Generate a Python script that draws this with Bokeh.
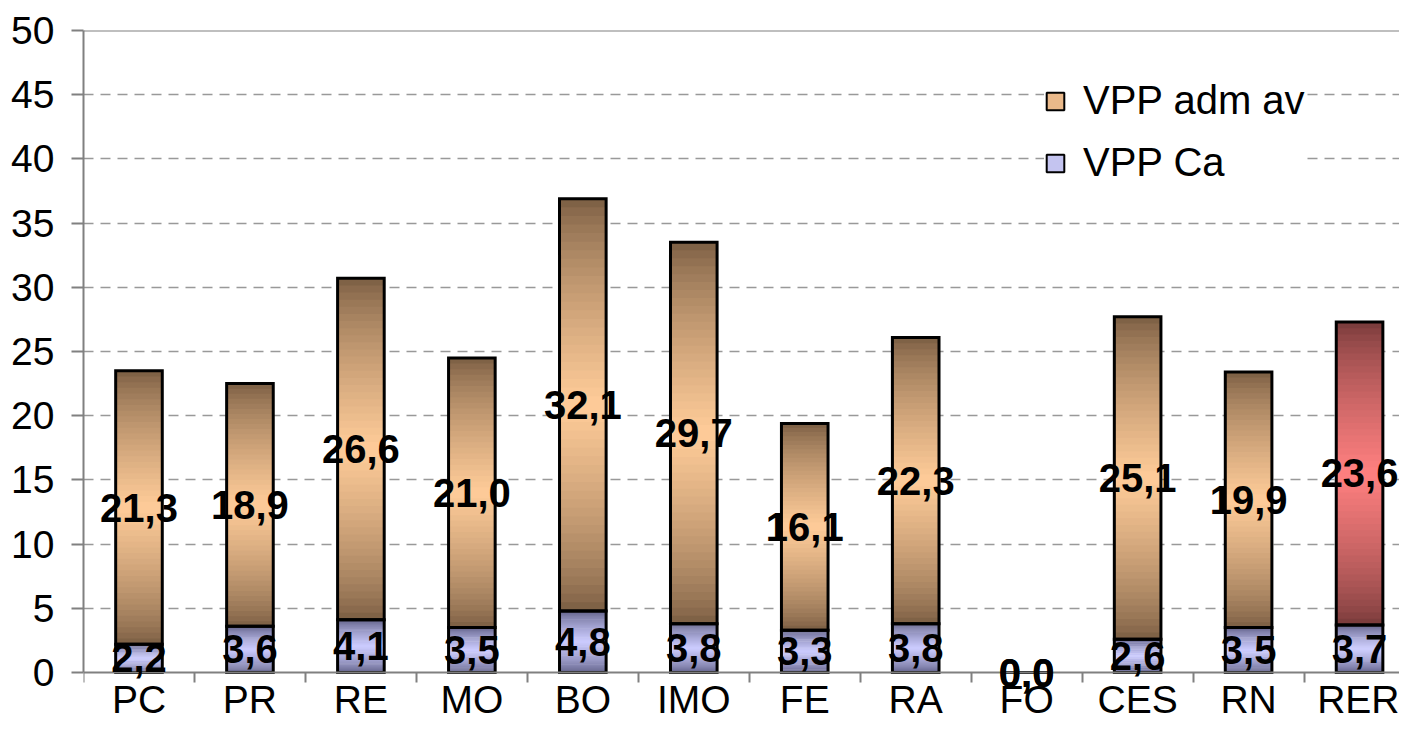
import numpy as np
from bokeh.plotting import figure
from bokeh.models import ColumnDataSource, Range1d, FixedTicker, Span, Legend, LegendItem, Label
from bokeh.embed import file_html
from bokeh.resources import INLINE

# ---- data ----
categories = ["PC", "PR", "RE", "MO", "BO", "IMO", "FE", "RA", "FO", "CES", "RN", "RER"]
vpp_ca = [2.2, 3.6, 4.1, 3.5, 4.8, 3.8, 3.3, 3.8, 0.0, 2.6, 3.5, 3.7]
vpp_adm_av = [21.3, 18.9, 26.6, 21.0, 32.1, 29.7, 16.1, 22.3, 0.0, 25.1, 19.9, 23.6]
y_ticks = [0, 5, 10, 15, 20, 25, 30, 35, 40, 45, 50]
series_names = ["VPP adm av", "VPP Ca"]
highlight = "RER"

# ---- styling ----
FONT = "Liberation Sans"
BAR_W = 0.42
N_SLICES = 48
ORANGE = ("#765a40", "#ffcc99")
RED = ("#733838", "#ff8080")
BLUE = ("#5c5c82", "#ccccff")


def hex2rgb(h):
    h = h.lstrip("#")
    return tuple(int(h[i:i + 2], 16) for i in (0, 2, 4))


def mix(c1, c2, t):
    a, b = hex2rgb(c1), hex2rgb(c2)
    return "#%02x%02x%02x" % tuple(int(round(x + (y - x) * t)) for x, y in zip(a, b))


xs = np.arange(len(categories)) + 0.5
ca = np.array(vpp_ca)
adm = np.array(vpp_adm_av)

# gradient slices (each slightly overlaps the next to avoid seams)
sx, sb, st, sc = [], [], [], []
for i, cat in enumerate(categories):
    for base, h, pal in ((0.0, ca[i], BLUE),
                         (ca[i], adm[i], RED if cat == highlight else ORANGE)):
        if h <= 0:
            continue
        for k in range(N_SLICES):
            u = (k + 0.5) / N_SLICES
            t = (1 - abs(2 * u - 1)) ** 0.7
            sx.append(xs[i])
            sb.append(base + h * k / N_SLICES)
            st.append(base + h * min(k + 1.5, N_SLICES) / N_SLICES)
            sc.append(mix(pal[0], pal[1], t))
slices = ColumnDataSource(dict(x=sx, bottom=sb, top=st, color=sc))

# the frame reaches the bottom of the figure so that labels at 0 are not cut;
# the x axis is pinned at y = 0
p = figure(width=1399, height=728, output_backend="svg", toolbar_location=None,
           x_range=Range1d(0, 11.86), y_range=Range1d(-4.36, 50),
           min_border_left=83, min_border_right=0, min_border_top=30, min_border_bottom=0)
p.outline_line_color = None
p.background_fill_color = "white"

p.vbar(x="x", bottom="bottom", top="top", width=BAR_W, source=slices,
       fill_color="color", line_color=None)

# outlines
p.vbar(x=xs, bottom=0, top=ca, width=BAR_W, fill_color=None,
       line_color="black", line_width=3, line_join="miter")
p.vbar(x=xs, bottom=ca, top=ca + adm, width=BAR_W, fill_color=None,
       line_color="black", line_width=3, line_join="miter")

# value labels
fmt = lambda v: f"{v:.1f}".replace(".", ",")
for xv, c, a in zip(xs, ca, adm):
    for yv, v in ((c + a / 2, a), (c / 2, c)):
        p.add_layout(Label(x=float(xv), y=float(yv), text=fmt(v), level="overlay",
                           text_align="center", text_baseline="middle",
                           text_font=FONT, text_font_size="40px", text_font_style="bold",
                           text_color="black"))

# top border
p.add_layout(Span(location=50, dimension="width", line_color="#808080", line_width=2))

# axes
p.yaxis.ticker = FixedTicker(ticks=y_ticks)
p.yaxis.bounds = (0, 50)
p.yaxis.axis_line_color = "#808080"
p.yaxis.axis_line_width = 2
p.yaxis.major_tick_line_color = "#808080"
p.yaxis.major_tick_line_width = 2
p.yaxis.major_tick_out = 12
p.yaxis.major_tick_in = 0
p.yaxis.minor_tick_line_color = None
p.yaxis.major_label_text_font = FONT
p.yaxis.major_label_text_font_size = "39px"
p.yaxis.major_label_text_color = "black"
p.yaxis.major_label_standoff = 17

p.xaxis.fixed_location = 0
p.xaxis.ticker = FixedTicker(ticks=list(xs), minor_ticks=list(range(len(categories) + 1)))
p.xaxis.major_label_overrides = {float(x): c for x, c in zip(xs, categories)}
p.xaxis.axis_line_color = "#808080"
p.xaxis.axis_line_width = 2
p.xaxis.major_tick_line_color = None
p.xaxis.major_tick_out = 0
p.xaxis.major_tick_in = 0
p.xaxis.minor_tick_line_color = "#808080"
p.xaxis.minor_tick_line_width = 2
p.xaxis.minor_tick_out = 10
p.xaxis.minor_tick_in = 0
p.xaxis.major_label_text_font = FONT
p.xaxis.major_label_text_font_size = "39px"
p.xaxis.major_label_text_color = "black"
p.xaxis.major_label_standoff = -5

p.xgrid.grid_line_color = None
p.ygrid.ticker = FixedTicker(ticks=y_ticks[1:-1])
p.ygrid.grid_line_color = "#999999"
p.ygrid.grid_line_dash = "10 7"
p.ygrid.grid_line_width = 1.5

# legend swatches (renderers with NaN data: drawn only in the legend)
r_adm = p.vbar(x=[np.nan], top=[np.nan], width=BAR_W, fill_color="#eab98a",
               line_color="black", line_width=2)
r_ca = p.vbar(x=[np.nan], top=[np.nan], width=BAR_W, fill_color="#c4c4f0",
              line_color="black", line_width=2)
legend = Legend(items=[LegendItem(label=series_names[0], renderers=[r_adm]),
                       LegendItem(label=series_names[1], renderers=[r_ca])],
                location=(961, 543), orientation="vertical")
legend.glyph_width = 22
legend.glyph_height = 22
legend.label_text_font = FONT
legend.label_text_font_size = "40px"
legend.label_text_color = "black"
legend.label_standoff = 17
legend.label_height = 40
legend.spacing = 17
legend.padding = 8
legend.margin = 0
legend.border_line_color = None
legend.background_fill_color = "white"
legend.background_fill_alpha = 1.0
p.add_layout(legend)

open("out.html", "w").write(file_html(p, INLINE))
